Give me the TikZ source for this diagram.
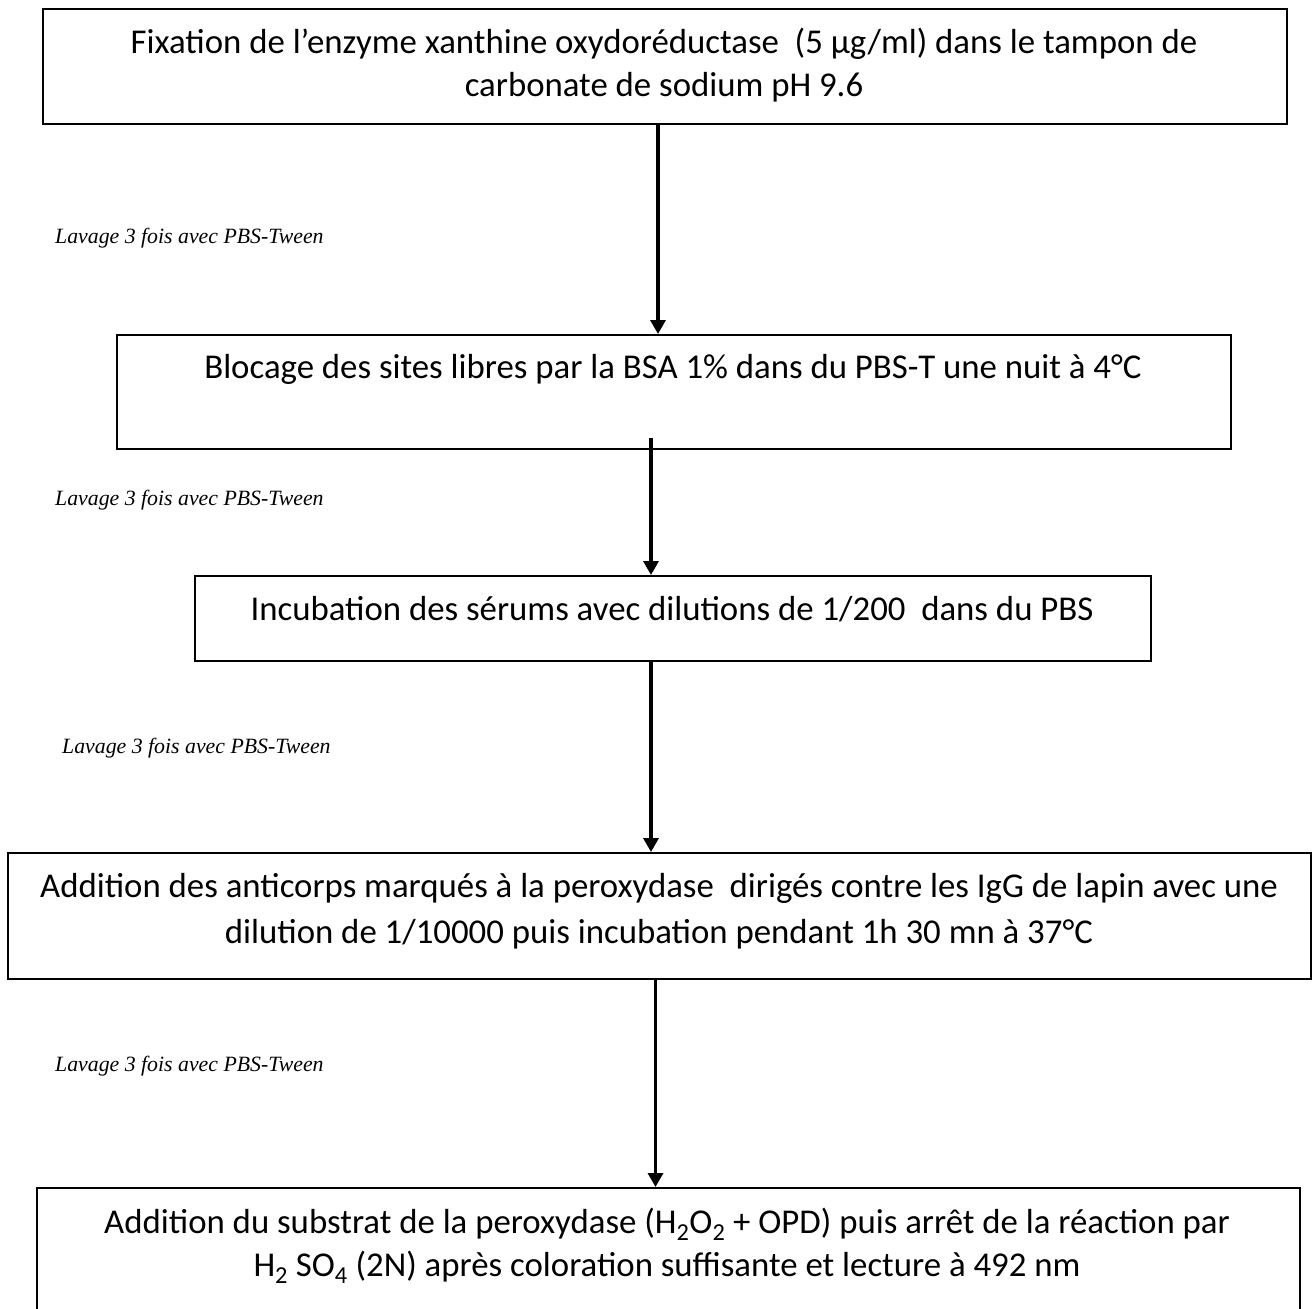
\documentclass[tikz,border=0pt]{standalone}
\usepackage{fontspec}
\setmainfont{Carlito}
\newfontfamily\tnr{Liberation Serif}
\usetikzlibrary{arrows.meta}
\begin{document}
\begin{tikzpicture}[x=1pt,y=-1pt,
  box/.style={draw=black, line width=2pt, inner sep=0pt, anchor=north west},
  txt/.style={inner sep=0pt, anchor=base, font=\fontsize{34.8}{43}\selectfont},
  lab/.style={inner sep=0pt, anchor=base west, font=\tnr\itshape\fontsize{21.8}{26}\selectfont},
  arr/.style={line width=3.3pt, -{Triangle[width=15pt,length=14pt]}}]
\useasboundingbox (0,0) rectangle (1312,1309);
\clip (0,0) rectangle (1312,1309);
% boxes
\node[box, minimum width=1244pt, minimum height=115pt] (b1) at (42,8) {};
\node[box, minimum width=1114pt, minimum height=114pt] (b2) at (116,334) {};
\node[box, minimum width=956pt, minimum height=85pt] (b3) at (194,575) {};
\node[box, minimum width=1303pt, minimum height=126pt] (b4) at (7,852) {};
\node[box, minimum width=1263pt, minimum height=160pt] (b5) at (36,1187) {};
% texts
\node[txt] (t1a) at (664,53) {Fixation de l’enzyme xanthine oxydoréductase\ \ (5 µg/ml) dans le tampon de};
\node[txt] (t1b) at (664,96) {carbonate de sodium pH 9.6};
\node[txt] (t2) at (673,378) {Blocage des sites libres par la BSA 1\% dans du PBS-T une nuit à 4°C};
\node[txt] (t3) at (672,620) {Incubation des sérums avec dilutions de 1/200\ \ dans du PBS};
\node[txt] (t4a) at (659,897) {Addition des anticorps marqués à la peroxydase\ \ dirigés contre les IgG de lapin avec une};
\node[txt] (t4b) at (659,943) {dilution de 1/10000 puis incubation pendant 1h 30 mn à 37°C};
\node[txt] (t5a) at (667,1233) {Addition du substrat de la peroxydase (H\textsubscript{2}O\textsubscript{2} + OPD) puis arrêt de la réaction par};
\node[txt] (t5b) at (667,1276) {H\textsubscript{2} SO\textsubscript{4} (2N) après coloration suffisante et lecture à 492 nm};
% labels
\node[lab] (l1) at (55,243) {Lavage 3 fois avec PBS-Tween};
\node[lab] (l2) at (55,505) {Lavage 3 fois avec PBS-Tween};
\node[lab] (l3) at (62,753) {Lavage 3 fois avec PBS-Tween};
\node[lab] (l4) at (55,1071) {Lavage 3 fois avec PBS-Tween};
% arrows
\draw[arr] ([xshift=-7pt]b1.south) -- ([xshift=-7pt]b1.south |- b2.north);
\draw[arr] ([xshift=-23pt,yshift=12pt]b2.south) -- ([xshift=-23pt]b2.south |- b3.north);
\draw[arr] ([xshift=-22pt]b3.south) -- ([xshift=-22pt]b3.south |- b4.north);
\draw[arr] ([xshift=-4pt]b4.south) -- ([xshift=-4pt]b4.south |- b5.north);
\end{tikzpicture}
\end{document}
